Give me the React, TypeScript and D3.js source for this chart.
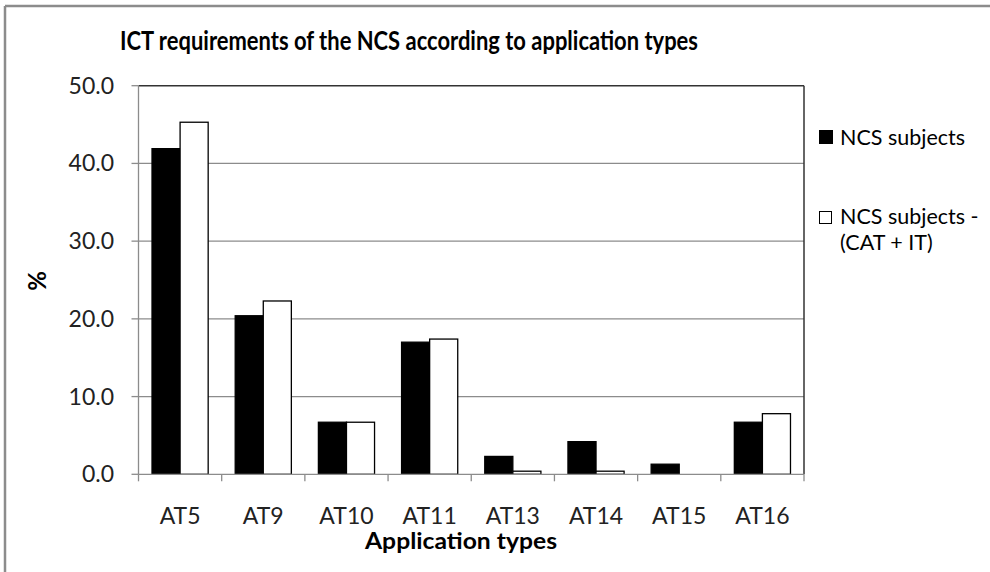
import React from "react";
import * as d3 from "d3";

const categories = ["AT5", "AT9", "AT10", "AT11", "AT13", "AT14", "AT15", "AT16"];
const seriesNames = ["NCS subjects", "NCS subjects - (CAT + IT)"];
const ncsSubjects = [41.9, 20.4, 6.7, 17.0, 2.3, 4.2, 1.3, 6.7];
const ncsMinusCatIt = [45.3, 22.3, 6.7, 17.4, 0.4, 0.4, 0.0, 7.8];
const yTicks = [0, 10, 20, 30, 40, 50];
const title = "ICT requirements of the NCS according to application types";
const xTitle = "Application types";
const yTitle = "%";
const legendLines = [["NCS subjects"], ["NCS subjects -", "(CAT + IT)"]];

const W = 990;
const H = 572;
const FONT = "Lato, 'Open Sans', sans-serif";

export default function App() {
  const left = 138.5;
  const right = 804;
  const top = 85.7;
  const bottom = 474.3;

  const x = d3.scaleBand<string>().domain(categories).range([left, right]).paddingInner(0.325).paddingOuter(0.1625);
  const x1 = d3.scaleBand<number>().domain([0, 1]).range([0, x.bandwidth()]);
  const y = d3.scaleLinear().domain([0, 50]).range([bottom, top]);
  const step = x.step();
  const series = [ncsSubjects, ncsMinusCatIt];
  const fills = ["#000000", "#ffffff"];

  return (
    <svg width={W} height={H} style={{ position: "absolute", left: 0, top: 0, background: "#fff" }} fontFamily={FONT}>
      <rect x={0} y={0} width={W} height={H} fill="#fff" />
      {/* outer frame */}
      <line x1={5} y1={6} x2={W} y2={6} stroke="#8c8c8c" strokeWidth={2.5} />
      <line x1={5} y1={6} x2={5} y2={H} stroke="#8c8c8c" strokeWidth={2.5} />

      <text x={409} y={50} textAnchor="middle" fontSize={27.5} fontWeight="bold" fill="#000" textLength={578} lengthAdjust="spacingAndGlyphs">{title}</text>

      {/* gridlines */}
      {yTicks.filter((t) => t > 0 && t < 50).map((t) => (
        <line key={t} x1={left} x2={right} y1={y(t)} y2={y(t)} stroke="#8c8c8c" strokeWidth={1.3} />
      ))}
      {/* plot border top & right */}
      <line x1={left} x2={right} y1={top} y2={top} stroke="#333" strokeWidth={1.5} />
      <line x1={right} x2={right} y1={top} y2={bottom} stroke="#333" strokeWidth={1.5} />

      {/* bars */}
      {categories.map((c, i) => (
        <g key={c}>
          {series.map((s, j) => {
            const v = s[i];
            if (v <= 0) return null;
            return (
              <rect
                key={j}
                x={(x(c) as number) + (x1(j) as number)}
                y={y(v)}
                width={x1.bandwidth()}
                height={bottom - y(v)}
                fill={fills[j]}
                stroke="#000"
                strokeWidth={1.3}
              />
            );
          })}
        </g>
      ))}

      {/* y axis */}
      <line x1={left} x2={left} y1={top} y2={bottom} stroke="#8c8c8c" strokeWidth={1.3} />
      {yTicks.map((t) => (
        <g key={t}>
          <line x1={left - 7} x2={left} y1={y(t)} y2={y(t)} stroke="#8c8c8c" strokeWidth={1.3} />
          <text x={114} y={y(t) + 8} textAnchor="end" fontSize={23} fill="#222">{t.toFixed(1)}</text>
        </g>
      ))}
      {/* x axis */}
      <line x1={left} x2={right} y1={bottom} y2={bottom} stroke="#8c8c8c" strokeWidth={1.3} />
      {d3.range(categories.length + 1).map((k) => (
        <line key={k} x1={left + k * step} x2={left + k * step} y1={bottom} y2={bottom + 7} stroke="#8c8c8c" strokeWidth={1.3} />
      ))}
      {categories.map((c) => (
        <text key={c} x={(x(c) as number) + x.bandwidth() / 2} y={524} textAnchor="middle" fontSize={23} fill="#222">{c}</text>
      ))}

      <text x={461} y={549} textAnchor="middle" fontSize={22} fontWeight="bold" fill="#000" textLength={192} lengthAdjust="spacingAndGlyphs">{xTitle}</text>
      <text transform={`translate(46,281) rotate(-90)`} textAnchor="middle" fontSize={24} fontWeight="bold" fill="#000">{yTitle}</text>

      {/* legend */}
      <rect x={819.5} y={130.5} width={13} height={13} fill={fills[0]} stroke="#000" />
      <text x={840} y={145} fontSize={21.5} fill="#000">{legendLines[0][0]}</text>
      <rect x={819.5} y={211.5} width={12} height={12} fill={fills[1]} stroke="#000" />
      <text x={840} y={224} fontSize={21.5} fill="#000">{legendLines[1][0]}</text>
      <text x={840} y={250} fontSize={21.5} fill="#000">{legendLines[1][1]}</text>
    </svg>
  );
}
